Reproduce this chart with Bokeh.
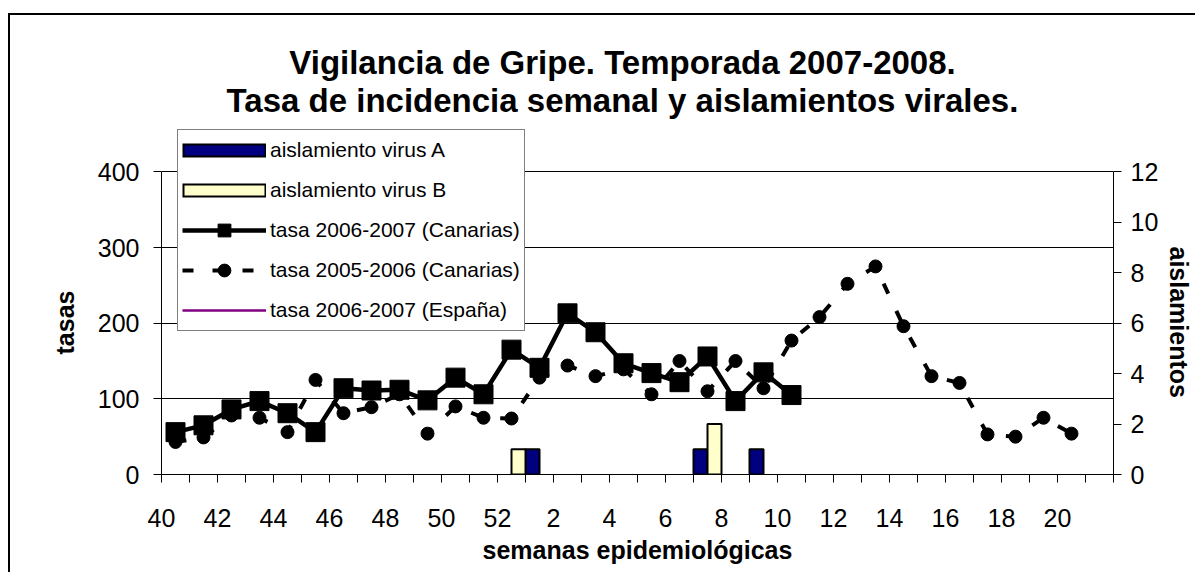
from bokeh.plotting import figure
from bokeh.models import (Range1d, LinearAxis, FixedTicker, Legend, LegendItem,
                          Label, Title, ColumnDataSource)
from bokeh.transform import dodge
from bokeh.embed import file_html
from bokeh.resources import INLINE

FONT = "Liberation Sans"
NAN = float("nan")

# ---------------- data ----------------
weeks = [40, 41, 42, 43, 44, 45, 46, 47, 48, 49, 50, 51, 52,
         1, 2, 3, 4, 5, 6, 7, 8, 9, 10, 11, 12, 13, 14, 15, 16, 17, 18, 19, 20, 21]
tick_labels = ["40", "42", "44", "46", "48", "50", "52", "2", "4", "6", "8",
               "10", "12", "14", "16", "18", "20"]

# weekly rate 2006-2007 Canarias (weeks 40 .. 10)
tasa_canarias_0607 = [56, 65, 86, 97, 81, 56, 114, 111, 112, 98, 128, 106, 165,
                      141, 213, 188, 147, 134, 122, 156, 97, 135, 105]
# weekly rate 2005-2006 Canarias (weeks 40 .. 20)
tasa_canarias_0506 = [43, 49, 78, 75, 56, 125, 81, 89, 106, 54, 90, 75, 74,
                      128, 144, 130, 139, 106, 150, 110, 150, 114, 177, 208, 252,
                      275, 196, 130, 121, 53, 50, 75, 54]
# weekly rate 2006-2007 Espana (no points shown in the chart)
tasa_espana_0607 = [NAN]

virus_A_weeks = [1, 7, 9]
virus_A = [1, 1, 1]
virus_B_weeks = [52, 7]
virus_B = [1, 2]

left_ticks = [0, 100, 200, 300, 400]
right_ticks = [0, 2, 4, 6, 8, 10, 12]

# ---------------- figure ----------------
n_cat = len(weeks)
cat_center = [i + 0.5 for i in range(n_cat)]

# the frame is extended upwards (to hold the title and the legend);
# the axes are bounded to 0-400 (left) and 0-12 (right)
p = figure(width=1187, height=559, output_backend="svg", toolbar_location=None,
           x_range=Range1d(0, n_cat), y_range=Range1d(0, 600),
           min_border_left=151, min_border_right=84, min_border_top=5,
           min_border_bottom=100, outline_line_color=None,
           background_fill_color="white", border_fill_color="white")
p.extra_y_ranges = {"aisl": Range1d(0, 18)}
p.styles = {"position": "relative", "left": "8px", "top": "13px",
            "border-left": "2px solid black", "border-top": "2px solid black"}

# x axis: ticks at category boundaries, labels every second week
overrides = {i: "" for i in range(n_cat + 1)}
for lab in tick_labels:
    overrides[weeks.index(int(lab))] = lab
xa = p.xaxis[0]
xa.ticker = FixedTicker(ticks=list(range(n_cat + 1)))
xa.major_label_overrides = overrides
xa.minor_tick_line_color = None
xa.major_tick_in = 0
xa.major_tick_out = 8
xa.major_label_standoff = 26
xa.major_label_text_font = FONT
xa.major_label_text_font_size = "25px"
xa.major_label_text_color = "black"
xa.axis_label = "semanas epidemiológicas"
xa.axis_label_text_font = FONT
xa.axis_label_text_font_style = "bold"
xa.axis_label_text_font_size = "25px"
xa.axis_label_text_color = "black"
xa.axis_label_standoff = 6
xa.axis_line_color = "black"

ya = p.yaxis[0]
ya.ticker = FixedTicker(ticks=left_ticks)
ya.bounds = (0, 400)
ya.minor_tick_line_color = None
ya.major_tick_in = 0
ya.major_tick_out = 8
ya.major_label_standoff = 14
ya.major_label_text_font = FONT
ya.major_label_text_font_size = "25px"
ya.major_label_text_color = "black"

ra = LinearAxis(y_range_name="aisl", ticker=FixedTicker(ticks=right_ticks),
                bounds=(0, 12))
ra.minor_tick_line_color = None
ra.major_tick_in = 0
ra.major_tick_out = 8
ra.major_label_standoff = 9
ra.major_label_text_font = FONT
ra.major_label_text_font_size = "25px"
ra.major_label_text_color = "black"
p.add_layout(ra, "right")

# axis titles (centred on the bounded 0-400 / 0-12 part of the axes)
tl = Title(text="tasas", align="left", offset=120, standoff=32,
           vertical_align="bottom", text_font=FONT, text_font_style="bold",
           text_font_size="25px", text_color="black")
p.add_layout(tl, "left")
tr = Title(text="aislamientos", align="left", offset=226, standoff=6,
           vertical_align="bottom", text_font=FONT, text_font_style="bold",
           text_font_size="25px", text_color="black")
p.add_layout(tr, "right")

p.xgrid.visible = False
p.ygrid.ticker = FixedTicker(ticks=left_ticks)
p.ygrid.grid_line_color = "black"
p.ygrid.grid_line_width = 1

# ---------------- bars (aislamientos, right axis) ----------------
srcA = ColumnDataSource(dict(x=[weeks.index(w) + 0.5 for w in virus_A_weeks], top=virus_A))
srcB = ColumnDataSource(dict(x=[weeks.index(w) + 0.5 for w in virus_B_weeks], top=virus_B))
p.vbar(x=dodge("x", -0.25, range=p.x_range), top="top", bottom=0, width=0.5,
       source=srcA, y_range_name="aisl", fill_color="#000080",
       line_color="black", line_width=2)
p.vbar(x=dodge("x", 0.25, range=p.x_range), top="top", bottom=0, width=0.5,
       source=srcB, y_range_name="aisl", fill_color="#FFFFCC",
       line_color="black", line_width=2)

# ---------------- lines ----------------
x0506 = cat_center[:len(tasa_canarias_0506)]
l0506 = p.line(x0506, tasa_canarias_0506, line_color="black", line_width=4,
               line_dash="11 19")
m0506 = p.scatter(x0506, tasa_canarias_0506, marker="circle", size=13,
                  fill_color="black", line_color="black")

x0607 = cat_center[:len(tasa_canarias_0607)]
l0607 = p.line(x0607, tasa_canarias_0607, line_color="black", line_width=4.5)
m0607 = p.scatter(x0607, tasa_canarias_0607, marker="square", size=19,
                  fill_color="black", line_color="black")

lesp = p.line(cat_center[:len(tasa_espana_0607)], tasa_espana_0607,
              line_color="#800080", line_width=2.5)

# legend swatches for the bars (outlined rectangles); no visible data
swA_out = p.line([0], [NAN], line_color="black", line_width=14)
swA_in = p.line([0], [NAN], line_color="#000080", line_width=10,
                line_dash="80 200", line_dash_offset=-2)
swB_out = p.line([0], [NAN], line_color="black", line_width=14)
swB_in = p.line([0], [NAN], line_color="#FFFFCC", line_width=10,
                line_dash="80 200", line_dash_offset=-2)

legend = Legend(items=[
    LegendItem(label="aislamiento virus A", renderers=[swA_out, swA_in]),
    LegendItem(label="aislamiento virus B", renderers=[swB_out, swB_in]),
    LegendItem(label="tasa 2006-2007 (Canarias)", renderers=[l0607, m0607]),
    LegendItem(label="tasa 2005-2006 (Canarias)", renderers=[l0506, m0506]),
    LegendItem(label="tasa 2006-2007 (España)", renderers=[lesp]),
], location=(16, 143))
legend.glyph_width = 84
legend.glyph_height = 32
legend.label_height = 32
legend.label_standoff = 4
legend.spacing = 8
legend.padding = 4
legend.margin = 0
legend.label_text_font = FONT
legend.label_text_font_size = "21px"
legend.label_text_color = "black"
legend.border_line_color = "black"
legend.border_line_width = 1
legend.background_fill_color = "white"
legend.background_fill_alpha = 1
p.add_layout(legend, "center")

# ---------------- title ----------------
t1 = Label(x=461, y=412, x_units="screen", y_units="screen",
           text="Vigilancia de Gripe. Temporada 2007-2008.",
           text_font=FONT, text_font_style="bold", text_font_size="33px",
           text_align="center", text_baseline="alphabetic", text_color="black")
t2 = Label(x=461, y=374, x_units="screen", y_units="screen",
           text="Tasa de incidencia semanal y aislamientos virales.",
           text_font=FONT, text_font_style="bold", text_font_size="33px",
           text_align="center", text_baseline="alphabetic", text_color="black")
p.add_layout(t1)
p.add_layout(t2)

open("out.html", "w").write(file_html(p, INLINE))
